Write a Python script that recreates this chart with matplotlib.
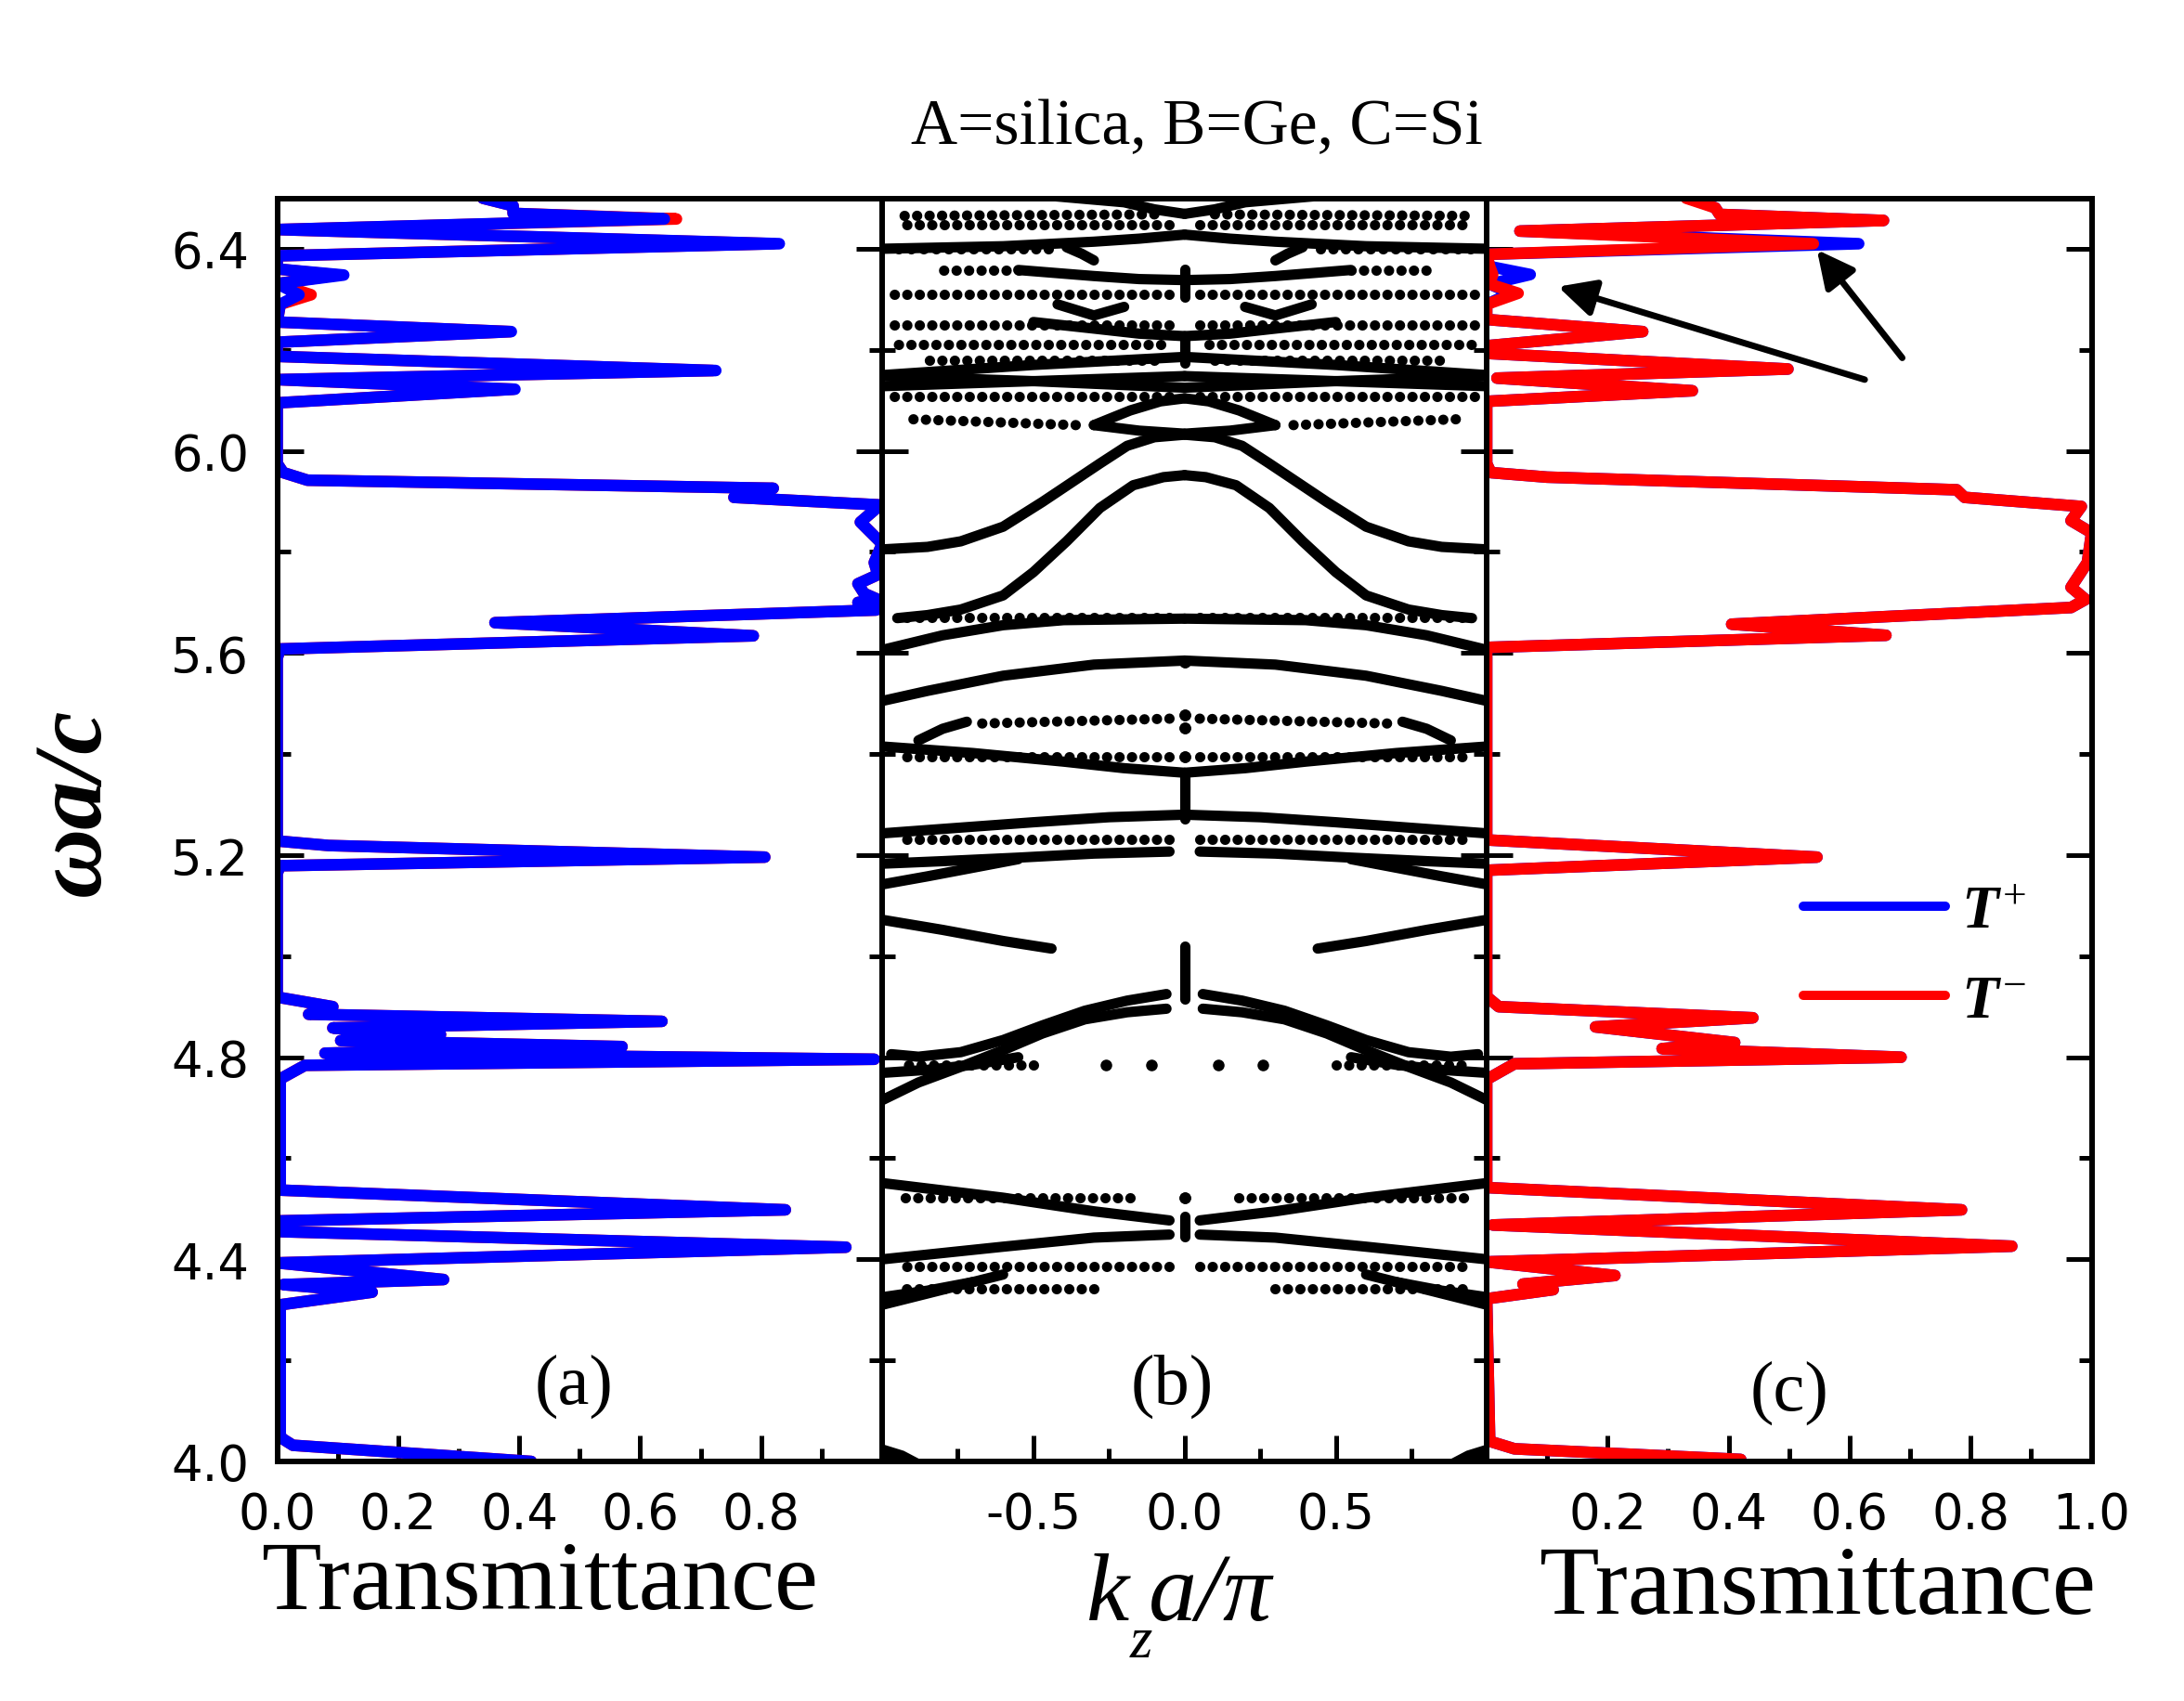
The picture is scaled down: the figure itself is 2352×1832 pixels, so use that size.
import matplotlib
matplotlib.use('Agg')
import matplotlib.pyplot as plt
from matplotlib.ticker import MultipleLocator, FixedLocator
import numpy as np

plt.rcParams['font.family'] = 'DejaVu Sans'
plt.rcParams['mathtext.fontset'] = 'custom'
plt.rcParams['mathtext.rm'] = 'Liberation Serif'
plt.rcParams['mathtext.it'] = 'Liberation Serif:italic:bold'
plt.rcParams['mathtext.bf'] = 'Liberation Serif:bold'

# ---------------- panel (a): transmittance ----------------
w_a = [6.52, 6.50, 6.485, 6.470, 6.459, 6.438, 6.410, 6.386, 6.360, 6.348, 6.331,
       6.309, 6.290, 6.255, 6.236, 6.215, 6.187, 6.159, 6.141, 6.122, 6.095,
       5.975, 5.957, 5.942, 5.926, 5.908, 5.893, 5.859, 5.816, 5.779, 5.755,
       5.737, 5.718, 5.706, 5.700, 5.685, 5.660, 5.634, 5.608, 5.590, 5.228,
       5.219, 5.196, 5.179, 5.164, 4.919, 4.900, 4.885, 4.871, 4.858, 4.845,
       4.833, 4.821, 4.808, 4.796, 4.784, 4.757, 4.537, 4.498, 4.476, 4.455,
       4.424, 4.393, 4.360, 4.350, 4.335, 4.310, 4.050, 4.044, 4.032, 4.000]
T_a_plus = [0.33, 0.34, 0.39, 0.39, 0.64, 0.00, 0.83, 0.00, 0.00, 0.11, 0.00,
            0.036, 0.005, 0.00, 0.387, 0.00, 0.00, 0.725, 0.00, 0.393, 0.00,
            0.00, 0.01, 0.05, 0.82, 0.755, 0.997, 0.964, 1.00, 0.987, 0.993,
            0.960, 0.970, 0.993, 0.960, 0.990, 0.360, 0.787, 0.005, 0.00, 0.00,
            0.085, 0.806, 0.005, 0.00, 0.00, 0.092, 0.052, 0.636, 0.092, 0.270,
            0.105, 0.570, 0.079, 0.987, 0.046, 0.005, 0.005, 0.840, 0.00, 0.00,
            0.940, 0.00, 0.275, 0.010, 0.157, 0.005, 0.005, 0.010, 0.026, 0.420]
T_a_minus = [0.33, 0.34, 0.39, 0.39, 0.66, 0.00, 0.82, 0.00, 0.00, 0.10, 0.00,
             0.056, 0.005, 0.00, 0.385, 0.00, 0.00, 0.72, 0.00, 0.39, 0.00,
             0.00, 0.01, 0.05, 0.82, 0.755, 0.997, 0.964, 1.00, 0.987, 0.993,
             0.960, 0.970, 0.993, 0.960, 0.990, 0.360, 0.787, 0.005, 0.00, 0.00,
             0.085, 0.806, 0.005, 0.00, 0.00, 0.092, 0.052, 0.636, 0.092, 0.270,
             0.105, 0.570, 0.079, 0.987, 0.046, 0.005, 0.005, 0.840, 0.00, 0.00,
             0.940, 0.00, 0.275, 0.010, 0.157, 0.005, 0.005, 0.010, 0.026, 0.420]

# ---------------- panel (c): transmittance ----------------
w_c = [6.52, 6.500, 6.481, 6.468, 6.456, 6.435, 6.410, 6.389, 6.365, 6.349, 6.330,
       6.312, 6.290, 6.260, 6.236, 6.208, 6.193, 6.162, 6.144, 6.119, 6.098,
       5.975, 5.957, 5.948, 5.923, 5.908, 5.890, 5.862, 5.838, 5.779, 5.730,
       5.706, 5.690, 5.657, 5.635, 5.611, 5.230, 5.196, 5.170, 4.920, 4.900,
       4.878, 4.860, 4.829, 4.817, 4.800, 4.787, 4.756, 4.542, 4.498, 4.468,
       4.426, 4.395, 4.368, 4.351, 4.340, 4.322, 4.040, 4.025, 4.004]
T_c_minus = [0.33, 0.33, 0.378, 0.385, 0.656, 0.055, 0.540, 0.00, 0.005, 0.010, 0.005,
             0.052, 0.00, 0.00, 0.258, 0.00, 0.00, 0.498, 0.017, 0.340, 0.00,
             0.00, 0.007, 0.100, 0.777, 0.790, 0.983, 0.966, 1.00, 0.993, 0.966,
             0.990, 0.966, 0.405, 0.660, 0.00, 0.00, 0.546, 0.00, 0.00, 0.02,
             0.44, 0.18, 0.41, 0.29, 0.685, 0.046, 0.00, 0.00, 0.785, 0.010,
             0.868, 0.00, 0.212, 0.060, 0.110, 0.00, 0.005, 0.046, 0.420]
T_c_plus = [0.34, 0.34, 0.378, 0.385, 0.656, 0.055, 0.615, 0.00, 0.005, 0.072, 0.005,
            0.040, 0.00, 0.00, 0.258, 0.00, 0.00, 0.498, 0.017, 0.340, 0.00,
            0.00, 0.007, 0.100, 0.777, 0.790, 0.983, 0.966, 1.00, 0.993, 0.966,
            0.990, 0.966, 0.405, 0.660, 0.00, 0.00, 0.546, 0.00, 0.00, 0.02,
            0.44, 0.18, 0.41, 0.29, 0.685, 0.046, 0.00, 0.00, 0.785, 0.010,
            0.868, 0.00, 0.212, 0.060, 0.110, 0.00, 0.005, 0.046, 0.420]

# ---------------- panel (b): band structure (k >= 0 half, mirrored) ----------------
solid_bands = [
    ([0.0, 0.1, 0.2, 0.45], [6.469, 6.478, 6.492, 6.505]),
    ([0.0, 0.15, 0.3, 0.6, 1.0], [6.428, 6.420, 6.414, 6.405, 6.400]),
    ([0.39, 0.34, 0.30], [6.403, 6.390, 6.377]),
    ([0.0, 0.15, 0.3, 0.55], [6.338, 6.340, 6.346, 6.358]),
    ([0.42, 0.30, 0.20], [6.290, 6.268, 6.285]),
    ([0.0, 0.15, 0.3, 0.5], [6.227, 6.232, 6.242, 6.255]),
    ([0.0, 0.5, 1.0], [6.186, 6.170, 6.150]),
    ([0.0, 0.5, 1.0], [6.125, 6.138, 6.148]),
    ([0.0, 0.5, 1.0], [6.148, 6.138, 6.128]),
    ([0.0, 0.08, 0.18, 0.3], [6.104, 6.098, 6.080, 6.051]),
    ([0.0, 0.15, 0.3], [6.034, 6.040, 6.051]),
    ([0.0, 0.1, 0.19, 0.28, 0.38, 0.47, 0.6, 0.74, 0.85, 1.0],
     [6.032, 6.027, 6.010, 5.975, 5.935, 5.899, 5.850, 5.821, 5.810, 5.805]),
    ([0.0, 0.07, 0.17, 0.28, 0.39, 0.5, 0.6, 0.74, 0.85, 0.95],
     [5.952, 5.948, 5.932, 5.887, 5.821, 5.760, 5.714, 5.686, 5.675, 5.669]),
    ([0.0, 0.4, 0.6, 0.8, 1.0], [5.668, 5.665, 5.655, 5.635, 5.606]),
    ([0.0, 0.3, 0.6, 0.85, 1.0], [5.585, 5.577, 5.555, 5.525, 5.505]),
    ([0.88, 0.8, 0.72], [5.427, 5.450, 5.464]),
    ([0.0, 0.2, 0.4, 0.7, 1.0], [5.363, 5.372, 5.385, 5.402, 5.415]),
    ([0.0, 0.25, 0.5, 0.75, 1.0], [5.280, 5.275, 5.265, 5.254, 5.243]),
    ([0.05, 0.3, 0.55, 0.8, 1.0], [5.207, 5.203, 5.195, 5.188, 5.183]),
    ([0.55, 0.7, 0.85, 1.0], [5.192, 5.175, 5.158, 5.142]),
    ([0.44, 0.6, 0.8, 1.0], [5.015, 5.030, 5.052, 5.072]),
    ([0.06, 0.19, 0.33, 0.47, 0.6, 0.74, 0.88, 0.97],
     [4.925, 4.912, 4.892, 4.863, 4.834, 4.810, 4.801, 4.806]),
    ([0.06, 0.19, 0.33, 0.47, 0.6, 0.74, 0.88, 1.0],
     [4.896, 4.889, 4.875, 4.847, 4.814, 4.781, 4.750, 4.715]),
    ([0.55, 0.7, 0.85, 1.0], [4.800, 4.785, 4.775, 4.769]),
    ([0.05, 0.3, 0.6, 1.0], [4.477, 4.495, 4.522, 4.551]),
    ([0.05, 0.3, 0.6, 1.0], [4.449, 4.443, 4.425, 4.400]),
    ([0.6, 0.8, 1.0], [4.370, 4.340, 4.310]),
    ([0.7, 0.85, 1.0], [4.355, 4.338, 4.325]),
]
dotted_bands = [
    ([0.10, 0.95], [6.468, 6.465]),
    ([0.05, 0.95], [6.447, 6.447]),
    ([0.45, 0.98], [6.400, 6.400]),
    ([0.55, 0.80], [6.358, 6.358]),
    ([0.05, 0.98], [6.309, 6.309]),
    ([0.05, 0.98], [6.250, 6.250]),
    ([0.08, 0.98], [6.211, 6.211]),
    ([0.10, 0.85], [6.179, 6.179]),
    ([0.05, 0.98], [6.108, 6.108]),
    ([0.36, 0.92], [6.051, 6.063]),
    ([0.05, 0.95], [5.670, 5.670]),
    ([0.05, 0.70], [5.470, 5.460]),
    ([0.05, 0.95], [5.394, 5.394]),
    ([0.05, 0.95], [5.232, 5.232]),
    ([0.50, 0.95], [4.785, 4.785]),
    ([0.18, 0.95], [4.522, 4.522]),
    ([0.05, 0.95], [4.385, 4.385]),
    ([0.30, 0.95], [4.342, 4.342]),
]
center_segments = [(6.305, 6.360), (6.174, 6.227), (5.272, 5.363), (4.916, 5.019), (4.445, 4.486)]
dot_k = [0.11, 0.26, 0.0, 0.0, 0.0, 0.0, 0.0]
dot_w = [4.785, 4.785, 5.583, 5.478, 5.452, 5.394, 4.522]
blob_k = [0.86, 0.93, 1.0]
blob_w = [4.000, 4.022, 4.035]

# arrows in panel (c): (T, omega)
arrow_tails = [(0.625, 6.141), (0.687, 6.184)]
arrow_heads = [(0.118, 6.325), (0.546, 6.398)]

# ---------------- figure ----------------
fig = plt.figure(figsize=(23.52, 18.33), dpi=100)
L = [298.5 / 2352, 950 / 2352, 1601 / 2352]
W = 651.5 / 2352
B = (1833 - 1575) / 1833
H = 1360.5 / 1833
axa = fig.add_axes([L[0], B, W, H])
axb = fig.add_axes([L[1], B, W, H])
axc = fig.add_axes([L[2], B, W, H])

LW = 9.0
kw = dict(lw=LW, solid_capstyle='round', solid_joinstyle='round')
axa.plot(T_a_minus, w_a, color='#ff0000', **kw)
axa.plot(T_a_plus, w_a, color='#0000ff', **kw)
axc.plot(T_c_plus, w_c, color='#0000ff', label=r'$T^{+}$', **kw)
axc.plot(T_c_minus, w_c, color='#ff0000', label=r'$T^{-}$', **kw)

BLW = 8.0
for ks, ws in solid_bands:
    k = np.array(ks)
    for s in (1, -1):
        axb.plot(s * k, ws, color='black', lw=BLW, solid_capstyle='round', solid_joinstyle='round')
for ks, ws in dotted_bands:
    k = np.array(ks)
    for s in (1, -1):
        axb.plot(s * k, ws, color='black', lw=BLW, ls=(0, (0.01, 1.2)), dash_capstyle='round')
for w0, w1 in center_segments:
    axb.plot([0, 0], [w0, w1], color='black', lw=BLW, solid_capstyle='round')
dk = np.array(dot_k)
axb.plot(dk, dot_w, 'o', color='black', ms=BLW)
axb.plot(-dk, dot_w, 'o', color='black', ms=BLW)
bk = np.array(blob_k)
axb.fill_between(bk, 4.0, blob_w, color='black', lw=0)
axb.fill_between(-bk, 4.0, blob_w, color='black', lw=0)

for (t0, w0), (t1, w1) in zip(arrow_tails, arrow_heads):
    axc.annotate('', xy=(t1, w1), xytext=(t0, w0),
                 arrowprops=dict(arrowstyle='-|>', lw=5, color='black', mutation_scale=60,
                                 shrinkA=0, shrinkB=0))

# axes formatting
for ax in (axa, axb, axc):
    ax.set_ylim(4.0, 6.5)
    ax.yaxis.set_major_locator(MultipleLocator(0.4))
    ax.yaxis.set_minor_locator(MultipleLocator(0.2))
    ax.tick_params(which='both', direction='in', top=False, right=True, width=3.6,
                   labelsize=38, pad=22)
    ax.tick_params(which='major', length=20)
    ax.tick_params(which='minor', length=10)
    for sp in ax.spines.values():
        sp.set_linewidth(4.3)

axa.set_yticks([4.0, 4.4, 4.8, 5.2, 5.6, 6.0, 6.4])
axa.set_yticklabels(['4.0', '4.4', '4.8', '5.2', '5.6', '6.0', '6.4'])
axb.tick_params(labelleft=False)
axc.tick_params(labelleft=False)
for ax in (axa, axb, axc):
    ax.set_ylim(4.0, 6.5)

for ax, ticks, labels in ((axa, [0.0, 0.2, 0.4, 0.6, 0.8], ['0.0', '0.2', '0.4', '0.6', '0.8']),
                          (axc, [0.2, 0.4, 0.6, 0.8, 1.0], ['0.2', '0.4', '0.6', '0.8', '1.0'])):
    ax.set_xlim(0.0, 1.0)
    ax.set_xticks(ticks)
    ax.set_xticklabels(labels)
    ax.xaxis.set_minor_locator(FixedLocator([0.1, 0.3, 0.5, 0.7, 0.9]))
axb.set_xlim(-1.0, 1.0)
axb.set_xticks([-0.5, 0.0, 0.5])
axb.set_xticklabels(['-0.5', '0.0', '0.5'])
axb.xaxis.set_minor_locator(FixedLocator([-0.75, -0.25, 0.25, 0.75]))

serif = 'Liberation Serif'
axa.text(0.49, 0.06, '(a)', transform=axa.transAxes, ha='center', va='center', fontsize=55, family=serif)
axb.text(0.48, 0.06, '(b)', transform=axb.transAxes, ha='center', va='center', fontsize=55, family=serif)
axc.text(0.50, 0.055, '(c)', transform=axc.transAxes, ha='center', va='center', fontsize=55, family=serif)

fig.text(1289 / 2352, 1 - 138 / 1833, 'A=silica, B=Ge, C=Si', ha='center', va='center',
         fontsize=50, family=serif)
fig.text(82 / 2352, 1 - 864 / 1833, '\u03c9a/c', ha='center', va='center', rotation=90,
         fontsize=75, family=serif, style='italic', weight='bold')
fig.text(581 / 2352, 1 - 1733 / 1833, 'Transmittance', ha='center', va='baseline', fontsize=76, family=serif)
fig.text(1957 / 2352, 1 - 1738 / 1833, 'Transmittance', ha='center', va='baseline', fontsize=76, family=serif)
fig.text(1170 / 2352, 1 - 1745 / 1833, 'k', ha='left', va='baseline', fontsize=75, family=serif, style='italic')
fig.text(1237 / 2352, 1 - 1745 / 1833, 'a/\u03c0', ha='left', va='baseline', fontsize=75, family=serif, style='italic')
fig.text(1217 / 2352, 1 - 1785 / 1833, 'z', ha='left', va='baseline', fontsize=45, family=serif, style='italic')

leg = axc.legend(loc='center left', bbox_to_anchor=(1942 / 2352, 1 - 1030 / 1833),
                 bbox_transform=fig.transFigure, frameon=False, fontsize=47,
                 handlelength=2.35, handletextpad=0.25, labelspacing=0.48,
                 borderpad=0, borderaxespad=0)
for h in leg.get_lines():
    h.set_linewidth(7.2)
    h.set_solid_capstyle('round')

fig.savefig('out.png', dpi=100)
